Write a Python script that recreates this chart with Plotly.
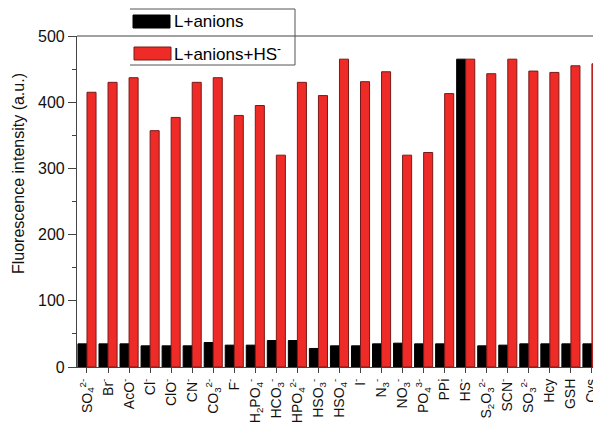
import plotly.graph_objects as go

categories = ["SO<sub>4</sub><sup>2-</sup>", "Br<sup>-</sup>", "AcO<sup>-</sup>", "Cl<sup>-</sup>", "ClO<sup>-</sup>",
              "CN<sup>-</sup>", "CO<sub>3</sub><sup>2-</sup>", "F<sup>-</sup>", "H<sub>2</sub>PO<sub>4</sub><sup>-</sup>",
              "HCO<sub>3</sub><sup>-</sup>", "HPO<sub>4</sub><sup>2-</sup>", "HSO<sub>3</sub><sup>-</sup>",
              "HSO<sub>4</sub><sup>-</sup>", "I<sup>-</sup>", "N<sub>3</sub><sup>-</sup>", "NO<sub>3</sub><sup>-</sup>",
              "PO<sub>4</sub><sup>3-</sup>", "PPi", "HS<sup>-</sup>", "S<sub>2</sub>O<sub>3</sub><sup>2-</sup>",
              "SCN<sup>-</sup>", "SO<sub>3</sub><sup>2-</sup>", "Hcy", "GSH", "Cys"]
l_anions = [35, 35, 35, 32, 32, 32, 37, 33, 33, 40, 40, 28, 32, 32, 35, 36, 35, 35, 465, 32, 33, 35, 35, 35, 35]
l_anions_hs = [415, 430, 437, 357, 377, 430, 437, 380, 395, 320, 430, 410, 465, 431, 446, 320, 324, 413, 465, 443,
               465, 447, 445, 455, 458]
y_ticks = [0, 100, 200, 300, 400, 500]
y_minor = [50, 150, 250, 350, 450]

idx = list(range(len(categories)))
FONT = "Arial, Liberation Sans, sans-serif"

fig = go.Figure()
fig.add_trace(go.Bar(x=idx, y=l_anions, name="L+anions", marker=dict(color="#000000", line=dict(color="#000000", width=1))))
fig.add_trace(go.Bar(x=idx, y=l_anions_hs, name="L+anions+HS<sup>-</sup>",
                     marker=dict(color="#ee2b27", line=dict(color="#7a1a18", width=1))))

OFF = 8  # page body margin
L, R, T, B = 77 - OFF, 0, 36 - OFF, 60
W, H = 601 - OFF, 427 - OFF
pw, ph = W - L - R, H - T - B
def px(x): return (x - OFF - L) / pw
def py(y): return (H - B - (y - OFF)) / ph

shapes = [
    dict(type="line", xref="paper", yref="paper", x0=0, x1=1, y0=1, y1=1, line=dict(color="#444", width=1.2)),
    # legend box (top, right, bottom)
    dict(type="line", xref="paper", yref="paper", x0=px(130), x1=px(295), y0=py(9), y1=py(9), line=dict(color="#555", width=1)),
    dict(type="line", xref="paper", yref="paper", x0=px(295), x1=px(295), y0=py(9), y1=py(65), line=dict(color="#555", width=1)),
    dict(type="line", xref="paper", yref="paper", x0=px(130), x1=px(295), y0=py(65), y1=py(65), line=dict(color="#555", width=1)),
    dict(type="rect", xref="paper", yref="paper", x0=px(133), x1=px(170), y0=py(15), y1=py(28), fillcolor="#000", line=dict(color="#000", width=1)),
    dict(type="rect", xref="paper", yref="paper", x0=px(134), x1=px(171), y0=py(47), y1=py(60), fillcolor="#ee2b27", line=dict(color="#7a1a18", width=1)),
]
annotations = [
    dict(xref="paper", yref="paper", x=px(173), y=py(21), text="L+anions", showarrow=False, xanchor="left", yanchor="middle",
         font=dict(size=17, color="#000", family=FONT), borderpad=0),
    dict(xref="paper", yref="paper", x=px(173), y=py(53), text="L+anions+HS<sup>-</sup>", showarrow=False, xanchor="left", yanchor="middle",
         font=dict(size=17, color="#000", family=FONT), borderpad=0),
    dict(xref="paper", yref="paper", x=px(18), y=py(174), text="Fluorescence intensity (a.u.)", showarrow=False,
         textangle=-90, xanchor="center", yanchor="middle", font=dict(size=16, color="#111", family=FONT)),
]

fig.update_layout(
    width=W, height=H,
    margin=dict(l=L, r=R, t=T, b=B, autoexpand=False),
    paper_bgcolor="white", plot_bgcolor="white",
    barmode="group", bargap=0.14, bargroupgap=0,
    showlegend=False,
    font=dict(family=FONT, size=14, color="#111"),
    shapes=shapes, annotations=annotations,
    xaxis=dict(tickmode="array", tickvals=idx, ticktext=categories, tickangle=-90, range=[-0.475, 24.43],
               showline=True, linecolor="#444", linewidth=1.2, ticks="outside", ticklen=5, tickcolor="#444",
               showgrid=False, zeroline=False, tickfont=dict(size=14), automargin=False),
    yaxis=dict(range=[0, 500], tickvals=y_ticks, showline=True, linecolor="#444", linewidth=1.2, ticks="outside",
               ticklen=8, tickcolor="#444", showgrid=False, zeroline=False, automargin=False,
               minor=dict(ticks="outside", ticklen=4, tickvals=y_minor, tickcolor="#444"),
               tickfont=dict(size=16)),
)

fig.write_html("out.html")
